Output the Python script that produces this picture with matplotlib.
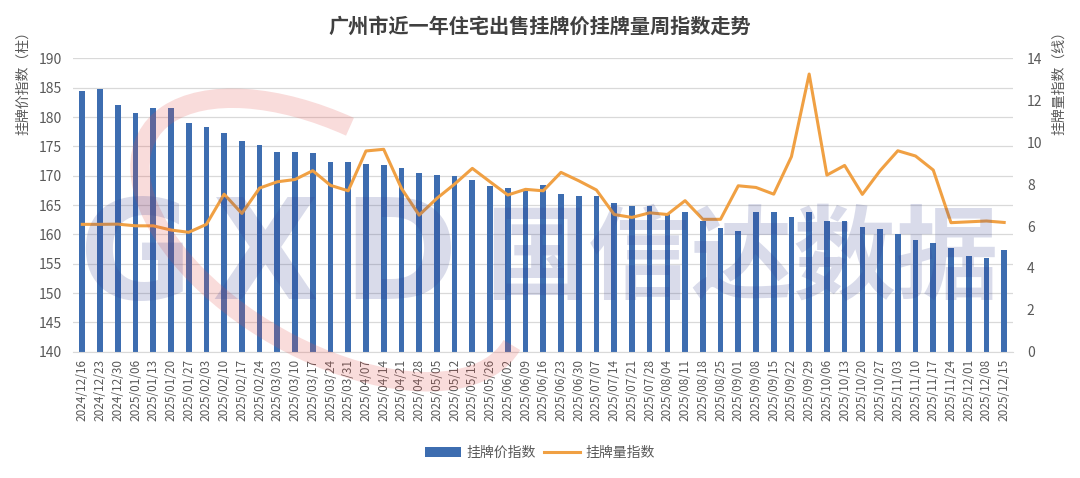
import numpy as np
import matplotlib
matplotlib.use("Agg")
import matplotlib.pyplot as plt
from matplotlib.patches import Arc
from matplotlib.transforms import IdentityTransform

plt.rcParams['font.family'] = ['Noto Sans CJK SC', 'DejaVu Sans']

# --- data ---
dates = [
    '2024/12/16', '2024/12/23', '2024/12/30', '2025/01/06', '2025/01/13', '2025/01/20',
    '2025/01/27', '2025/02/03', '2025/02/10', '2025/02/17', '2025/02/24', '2025/03/03',
    '2025/03/10', '2025/03/17', '2025/03/24', '2025/03/31', '2025/04/07', '2025/04/14',
    '2025/04/21', '2025/04/28', '2025/05/05', '2025/05/12', '2025/05/19', '2025/05/26',
    '2025/06/02', '2025/06/09', '2025/06/16', '2025/06/23', '2025/06/30', '2025/07/07',
    '2025/07/14', '2025/07/21', '2025/07/28', '2025/08/04', '2025/08/11', '2025/08/18',
    '2025/08/25', '2025/09/01', '2025/09/08', '2025/09/15', '2025/09/22', '2025/09/29',
    '2025/10/06', '2025/10/13', '2025/10/20', '2025/10/27', '2025/11/03', '2025/11/10',
    '2025/11/17', '2025/11/24', '2025/12/01', '2025/12/08', '2025/12/15',
]

price_index = [
    184.4, 184.8, 182.0, 180.7, 181.5, 181.6, 179.0, 178.3, 177.3, 175.9, 175.3, 174.0,
    174.1, 173.8, 172.4, 172.4, 172.0, 171.8, 171.3, 170.5, 170.2, 169.9, 169.3, 168.2,
    167.9, 167.4, 168.4, 166.8, 166.5, 166.5, 165.4, 164.8, 164.9, 163.6, 163.8, 162.3,
    161.1, 160.6, 163.9, 163.8, 163.0, 163.9, 162.3, 162.3, 161.3, 160.9, 160.1, 159.1,
    158.5, 157.7, 156.4, 156.0, 157.3,
]

volume_index = [
    6.08, 6.08, 6.09, 6.01, 6.01, 5.81, 5.70, 6.08, 7.52, 6.60, 7.81, 8.11,
    8.22, 8.64, 7.94, 7.68, 9.58, 9.66, 7.80, 6.52, 7.32, 8.00, 8.75, 8.11,
    7.48, 7.75, 7.68, 8.56, 8.16, 7.72, 6.55, 6.41, 6.63, 6.55, 7.21, 6.32,
    6.32, 7.92, 7.84, 7.52, 9.31, 13.25, 8.43, 8.89, 7.51, 8.64, 9.59, 9.34,
    8.67, 6.16, 6.20, 6.24, 6.17,
]

bar_color = '#3d6db0'
line_color = '#f0a043'
text_color = '#595959'

fig = plt.figure(figsize=(10.8, 4.78), dpi=100)
ax = fig.add_axes([0.068, 0.264, 0.870, 0.614])
ax2 = ax.twinx()

x = np.arange(len(dates))
bars = ax.bar(x, price_index, width=0.32, color=bar_color, zorder=2, label='挂牌价指数')
line, = ax2.plot(x, volume_index, color=line_color, linewidth=2.2, zorder=3, label='挂牌量指数')

ax.set_xlim(-0.5, len(dates) - 0.5)
ax.set_ylim(140, 190)
ax.set_yticks(np.arange(140, 191, 5))
ax2.set_ylim(0, 14)
ax2.set_yticks(np.arange(0, 15, 2))

ax.grid(axis='y', color='#d9d9d9', linewidth=0.9, zorder=0)
ax.set_axisbelow(True)
for a in (ax, ax2):
    for s in a.spines.values():
        s.set_visible(False)
ax.spines['bottom'].set_visible(True)
ax.spines['bottom'].set_color('#d9d9d9')

ax.set_xticks(x)
ax.set_xticklabels(dates, rotation=90, fontsize=8.5, color=text_color)
ax.tick_params(axis='x', length=0, pad=5)
ax.tick_params(axis='y', length=0, labelsize=10, labelcolor=text_color, pad=8)
ax2.tick_params(axis='y', length=0, labelsize=10, labelcolor=text_color, pad=10)

fig.text(0.5, 0.945, '广州市近一年住宅出售挂牌价挂牌量周指数走势', ha='center', va='center',
         fontsize=14.5, fontweight='bold', color='#404040')
fig.text(0.021, 0.95, '挂牌价指数（柱）', rotation=90, ha='center', va='top',
         fontsize=10, color=text_color)
fig.text(0.981, 0.95, '挂牌量指数（线）', rotation=90, ha='center', va='top',
         fontsize=10, color=text_color)

fig.legend(handles=[bars, line], loc='center', bbox_to_anchor=(0.5, 0.052), ncol=2,
           frameon=False, fontsize=10, labelcolor=text_color, handlelength=2.6,
           columnspacing=0.6, handletextpad=0.4)

# watermark logo over the plot (semi-transparent), kept inside the plot area
swoosh = Arc((330, 478 - 240), 420, 220, angle=-30, theta1=110, theta2=360,
             linewidth=14, color='#e4514c', alpha=0.2, transform=IdentityTransform(),
             zorder=5)
fig.add_artist(swoosh)
wm_color = '#2e3b8f'
for letter, xc in (('G', 0.125), ('X', 0.245), ('D', 0.37)):
    fig.text(xc, 0.455, letter, ha='center', va='center', fontsize=100,
             fontweight='bold', color=wm_color, alpha=0.18, family='DejaVu Sans', zorder=5)
fig.text(0.687, 0.455, '国信达数据', ha='center', va='center', fontsize=74,
         fontweight='bold', color=wm_color, alpha=0.18, zorder=5)

fig.savefig('out.png', dpi=100)
